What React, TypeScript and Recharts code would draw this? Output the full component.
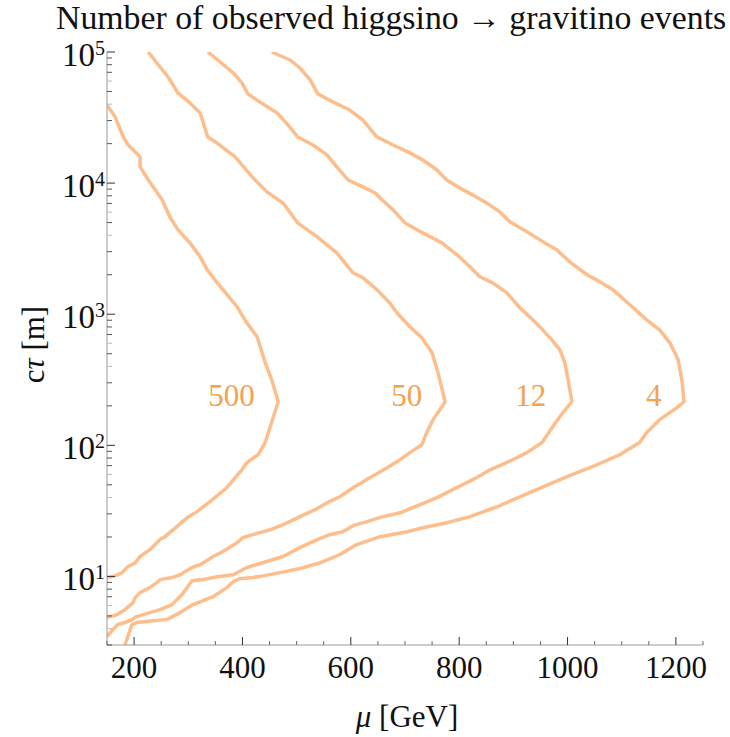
import React from 'react';
import { ComposedChart, Line, Scatter, XAxis, YAxis, Label } from 'recharts';

// contour lines: [mu (GeV), c*tau (m)]
const curve500: [number, number][] = [
  [150, 39400], [165, 32000], [180, 22500], [189, 19500], [211, 15900], [211, 13300], [226, 10600],
  [252, 7440], [266, 5520], [281, 4400], [303, 3500], [322, 2740], [335, 2180], [349, 1830],
  [364, 1540], [390, 1140], [408, 860], [427, 673], [442, 427], [454, 316], [466, 215],
  [442, 105], [429, 85], [408, 73.6], [399, 65.1], [371, 47.5], [340, 37.2], [316, 31.2],
  [298, 28.1], [279, 24], [257, 20.1], [248, 19.1], [229, 16], [211, 14.2], [202, 12.7],
  [189, 11.9], [178, 10.7], [165, 10.1], [150, 9.8],
];

const curve50: [number, number][] = [
  [226, 100000], [242, 82400], [263, 64400], [281, 48700], [303, 40900], [322, 34300], [336, 22500],
  [353, 20200], [386, 15900], [418, 11150], [445, 8570], [475, 7060], [502, 4970], [538, 3890],
  [574, 2940], [604, 2070], [622, 1900], [648, 1540], [672, 1220], [685, 1025], [709, 802],
  [731, 661], [750, 508], [761, 357], [774, 215],
  [752, 157], [740, 125], [731, 101], [709, 88], [691, 77.7], [667, 67.5], [635, 56.6],
  [604, 47.5], [580, 40.6], [556, 36.5], [534, 32.3], [506, 28.6], [475, 24.8], [451, 22.7],
  [432, 21.6], [401, 19.8], [390, 18.1], [364, 15.5], [346, 14.2], [322, 12.3], [307, 11.7],
  [285, 10.3], [270, 9.8], [248, 9.46], [242, 8.98], [229, 8.22], [211, 7.53], [202, 6.89],
  [198, 6.31], [183, 5.58], [169, 5.12], [150, 4.85],
];

const curve12: [number, number][] = [
  [336, 100000], [359, 83900], [383, 69200], [399, 58100], [410, 47900], [432, 41600], [464, 34300],
  [484, 27800], [502, 22500], [530, 19540], [556, 16400], [574, 13300], [595, 10570], [622, 9350],
  [645, 8410], [654, 7710], [678, 6250], [700, 4970], [733, 4170], [768, 3500], [796, 2840],
  [820, 2300], [838, 1930], [862, 1735], [888, 1456], [912, 1120], [930, 955], [954, 760],
  [971, 638], [986, 535], [995, 427], [1001, 316], [1008, 215],
  [991, 177], [973, 139], [953, 105], [925, 88], [899, 77.7], [875, 70], [857, 65.1], [825, 54.7],
  [788, 45.9], [759, 39.9], [728, 35.3], [691, 30.6], [659, 28.6], [630, 26.2], [604, 24.4],
  [585, 21.9], [561, 20.8], [538, 19.1], [506, 16.6], [475, 14.2], [445, 13], [408, 11.7],
  [383, 10.3], [353, 9.96], [327, 9.46], [307, 9.29], [298, 8.22], [288, 7.26], [270, 6.1],
  [248, 5.58], [229, 5.3], [205, 4.94], [196, 4.69], [183, 4.45], [170, 4.3], [161, 3.94], [150, 3.48],
];

const curve4: [number, number][] = [
  [454, 100000], [488, 86900], [506, 75500], [525, 61200], [539, 47900], [567, 41600], [598, 36100],
  [622, 30300], [648, 22500], [678, 19540], [709, 17000], [733, 15000], [759, 12600], [777, 10570],
  [801, 9180], [825, 8130], [851, 7060], [875, 6030], [894, 5060], [925, 4250], [949, 3690],
  [980, 3100], [1004, 2510], [1036, 2000], [1060, 1765], [1084, 1535], [1115, 1180], [1146, 906],
  [1170, 760], [1189, 605], [1204, 449], [1211, 316], [1215, 215],
  [1202, 194], [1170, 157], [1146, 125], [1133, 105], [1097, 85], [1054, 71.1], [999, 57.7],
  [930, 43.6], [870, 34], [820, 28.6], [777, 25.7], [733, 23.5], [704, 21.9], [654, 20.1],
  [611, 17.5], [580, 14.7], [543, 12.7], [506, 11.5], [469, 10.7], [438, 10.1], [419, 9.8],
  [395, 9.6], [383, 9.12], [371, 8.22], [346, 7.01], [309, 6.1], [285, 5.3], [261, 4.69],
  [235, 4.6], [205, 4.45], [196, 4.3], [191, 3.73], [183, 3.0],
];

const contourNames = ['500', '50', '12', '4'];
const labelMu = [380, 703, 932, 1159];
const labelCtau = 240;

const xTicks = [150, 200, 250, 300, 350, 400, 450, 500, 550, 600, 650, 700, 750, 800, 850, 900, 950, 1000, 1050, 1100, 1150, 1200, 1250];
const xLabelTicks = [200, 400, 600, 800, 1000, 1200];
const yDecades = [10, 100, 1000, 10000, 100000];
const yMantissas = [2, 3, 4, 5, 6, 7, 8, 9];

const yTicks = [1, 10, 100, 1000, 10000]
  .flatMap(d => [d * 10, ...yMantissas.map(m => m * d)])
  .filter(v => v >= 3 && v <= 100000)
  .sort((a, b) => a - b);

const FONT = '"Liberation Serif", "DejaVu Serif", serif';
const LINE = '#FDBE8C';
const LABEL = '#F6A14F';
const FRAME = '#9a9a9a';

const toRows = (pts: [number, number][]) => pts.map(([mu, ct]) => ({ mu, ct }));
const series = [curve500, curve50, curve12, curve4].map(toRows);
const labelRows = contourNames.map((text, i) => ({ mu: labelMu[i], ct: labelCtau, text }));

const isDecade = (v: number) => yDecades.includes(v);
const mantissa = (v: number) => Math.round(v / 10 ** Math.floor(Math.log10(v) + 1e-9));
const yTickColor = (v: number) => (isDecade(v) ? '#333' : [4, 6].includes(mantissa(v)) ? '#bbb' : '#555');

const LeftTick = ({ x, y, payload }: any) => {
  const v = payload.value;
  const major = isDecade(v);
  return (
    <g>
      <line x1={x} x2={x + (major ? 8 : 5)} y1={y} y2={y} stroke={yTickColor(v)} strokeWidth={1} />
      {major && (
        <text x={x - 2} y={y + 14} textAnchor="end" fontFamily={FONT} fontSize={33} fill="#111">
          10<tspan dy={-11} fontSize={20}>{Math.round(Math.log10(v))}</tspan>
        </text>
      )}
    </g>
  );
};

const RightTick = ({ x, y, payload }: any) => {
  const v = payload.value;
  const major = isDecade(v);
  return <line x1={x} x2={x - (major ? 8 : 5)} y1={y} y2={y} stroke={yTickColor(v)} strokeWidth={1} />;
};

const BottomTick = ({ x, y, payload }: any) => {
  const major = xLabelTicks.includes(payload.value);
  return (
    <g>
      <line x1={x} x2={x} y1={y} y2={y - (major ? 8 : 4)} stroke={major ? '#333' : '#666'} strokeWidth={1} />
      {major && (
        <text x={x} y={y + 33} textAnchor="middle" fontFamily={FONT} fontSize={31} fill="#111">
          {payload.value}
        </text>
      )}
    </g>
  );
};

const TopTick = ({ x, y, payload }: any) => {
  const major = xLabelTicks.includes(payload.value);
  return <line x1={x} x2={x} y1={y} y2={y + (major ? 8 : 4)} stroke={major ? '#333' : '#666'} strokeWidth={1} />;
};

const ContourLabel = ({ cx, cy, payload }: any) => (
  <text x={cx} y={cy} dy="0.35em" textAnchor="middle" fontFamily={FONT} fontSize={31} fill={LABEL}>
    {payload.text}
  </text>
);

export default function App() {
  return (
    <div style={{ position: 'absolute', left: 0, top: 0, width: 730, height: 737, background: '#fff' }}>
      <div
        style={{
          position: 'absolute', left: 56, top: 5, whiteSpace: 'nowrap',
          fontFamily: FONT, fontSize: 33.8, lineHeight: '26px', color: '#111',
        }}
      >
        Number of observed higgsino → gravitino events
      </div>
      <ComposedChart width={730} height={737} margin={{ top: 52, right: 27, bottom: 0, left: 0 }}>
        <XAxis
          xAxisId={0} type="number" dataKey="mu" domain={[150, 1250]} allowDataOverflow
          ticks={xTicks} interval={0} tickSize={0} tickMargin={0} height={92}
          axisLine={{ stroke: FRAME }} tick={<BottomTick />}
        >
          <Label
            content={({ viewBox }: any) => (
              <text x={viewBox.x + viewBox.width / 2 + 2} y={viewBox.y + 82} textAnchor="middle" fontFamily={FONT} fontSize={31} fill="#111">
                <tspan fontStyle="italic">μ</tspan> [GeV]
              </text>
            )}
          />
        </XAxis>
        <XAxis
          xAxisId="top" orientation="top" type="number" domain={[150, 1250]} allowDataOverflow
          ticks={xTicks} interval={0} tickSize={0} tickMargin={0} height={0}
          axisLine={{ stroke: FRAME }} tick={<TopTick />}
        />
        <YAxis
          yAxisId={0} type="number" dataKey="ct" scale="log" domain={[3, 100000]} allowDataOverflow
          ticks={yTicks} interval={0} tickSize={0} tickMargin={0} width={107}
          axisLine={{ stroke: FRAME }} tick={<LeftTick />}
        >
          <Label
            content={({ viewBox }: any) => {
              const cx = 33;
              const cy = viewBox.y + viewBox.height / 2 - 4;
              return (
                <text x={cx} y={cy} transform={`rotate(-90, ${cx}, ${cy})`} textAnchor="middle" dominantBaseline="central" fontFamily={FONT} fontSize={31} fill="#111">
                  c<tspan fontStyle="italic">τ</tspan> [m]
                </text>
              );
            }}
          />
        </YAxis>
        <YAxis
          yAxisId="right" orientation="right" type="number" scale="log" domain={[3, 100000]} allowDataOverflow
          ticks={yTicks} interval={0} tickSize={0} tickMargin={0} width={0}
          axisLine={{ stroke: FRAME }} tick={<RightTick />}
        />
        {series.map((rows, i) => (
          <Line
            key={contourNames[i]}
            data={rows}
            dataKey="ct"
            type="linear"
            stroke={LINE}
            strokeWidth={3.5}
            strokeLinejoin="round"
            dot={false}
            activeDot={false}
            isAnimationActive={false}
          />
        ))}
        <Scatter data={labelRows} dataKey="ct" shape={<ContourLabel />} isAnimationActive={false} />
      </ComposedChart>
    </div>
  );
}
